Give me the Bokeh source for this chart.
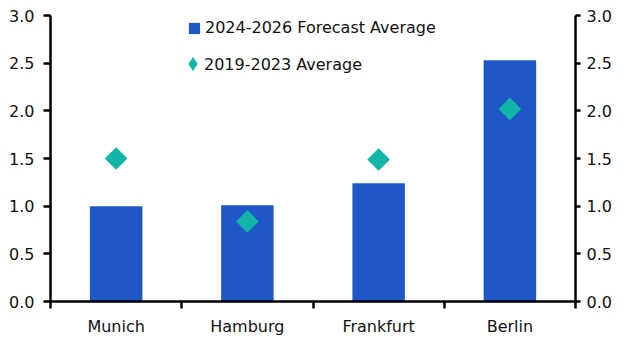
from bokeh.plotting import figure
from bokeh.models import (ColumnDataSource, Range1d, LinearAxis, FixedTicker,
                          NumeralTickFormatter, Legend, LegendItem)
from bokeh.embed import file_html
from bokeh.resources import INLINE
import math

cities = ["Munich", "Hamburg", "Frankfurt", "Berlin"]
forecast_avg = [1.00, 1.01, 1.24, 2.53]
past_avg = [1.50, 0.84, 1.49, 2.02]
y_ticks = [0.0, 0.5, 1.0, 1.5, 2.0, 2.5, 3.0]

BAR = "#1F57C9"
TEAL = "#12B5A6"
FONT = "DejaVu Sans"
TXT = "#111111"

xc = [i + 0.5 for i in range(len(cities))]
src = ColumnDataSource(dict(x=xc, city=cities, f=forecast_avg, p=past_avg))

p = figure(width=624, height=352, output_backend="svg", toolbar_location=None,
           x_range=Range1d(0, len(cities)), y_range=Range1d(0, 3),
           min_border_left=50, min_border_right=49, min_border_top=15,
           min_border_bottom=51)
p.outline_line_color = None
p.grid.visible = False
p.xaxis.visible = False
p.yaxis.visible = False

bars = p.vbar(x="x", top="f", width=0.4, source=src, fill_color=BAR, line_color=None)
pts = p.scatter(x="x", y="p", source=src, marker="square", size=16, angle=math.pi / 4,
                fill_color=TEAL, line_color=None)
# hidden twin of the points, used only as the legend key (diamond marker)
key = p.scatter(x="x", y="p", source=src, marker="diamond", size=16,
                fill_color=TEAL, line_color=None, visible=False)

def style_y(ax, out, standoff):
    ax.ticker = FixedTicker(ticks=y_ticks, minor_ticks=[])
    ax.formatter = NumeralTickFormatter(format="0.0")
    ax.axis_line_width = 2.5
    ax.axis_line_color = "black"
    ax.major_tick_line_width = 2.5
    ax.major_tick_line_color = "black"
    ax.major_tick_in = 0
    ax.major_tick_out = out
    ax.minor_tick_line_color = None
    ax.major_label_standoff = standoff
    ax.major_label_text_font = FONT
    ax.major_label_text_font_size = "16px"
    ax.major_label_text_color = TXT

yl = LinearAxis()
style_y(yl, 7, 9)
p.add_layout(yl, "left")
yr = LinearAxis()
style_y(yr, 5, 6)
p.add_layout(yr, "right")

xa = LinearAxis()
xa.ticker = FixedTicker(ticks=xc, minor_ticks=list(range(len(cities) + 1)))
xa.major_label_overrides = {v: c for v, c in zip(xc, cities)}
xa.axis_line_width = 2.5
xa.axis_line_color = "black"
xa.major_tick_line_color = None
xa.major_tick_in = 0
xa.major_tick_out = 7
xa.minor_tick_line_color = "black"
xa.minor_tick_line_width = 2.5
xa.minor_tick_in = 0
xa.minor_tick_out = 7
xa.major_label_standoff = 8
xa.major_label_text_font = FONT
xa.major_label_text_font_size = "16px"
xa.major_label_text_color = TXT
p.add_layout(xa, "below")

def mk_legend(item, loc, gw, gh, standoff):
    lg = Legend(items=[item], location=loc, glyph_width=gw, glyph_height=gh,
                label_standoff=standoff, padding=0, margin=0, spacing=0,
                border_line_color=None, background_fill_alpha=0,
                label_text_font=FONT, label_text_font_size="16px",
                label_text_color=TXT, label_height=gh)
    p.add_layout(lg, "center")

mk_legend(LegendItem(label="2024-2026 Forecast Average", renderers=[bars]), (137, 264), 14, 14, 4)
# diamond key of the second entry, and its text (key glyph suppressed by zero width)
mk_legend(LegendItem(label=" ", renderers=[key]), (125, 220), 35, 35, 0)
mk_legend(LegendItem(label="2019-2023 Average", renderers=[pts]), (154, 222), 0, 30, 0)

open("out.html", "w").write(file_html(p, INLINE))
